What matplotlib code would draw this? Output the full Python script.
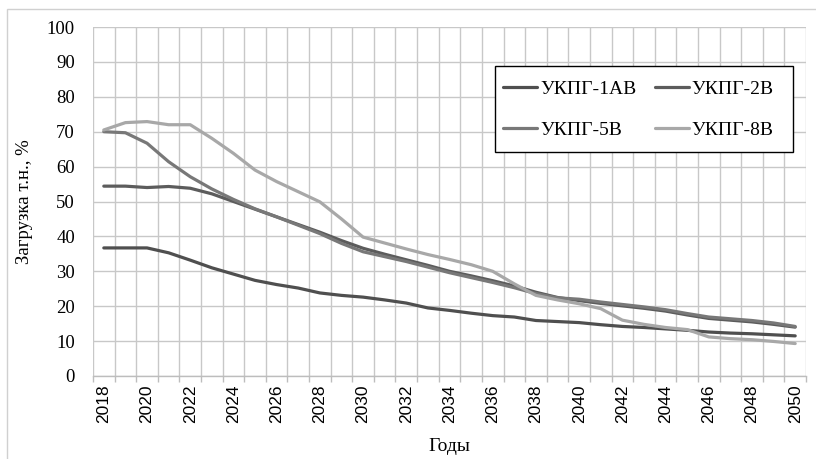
import matplotlib
matplotlib.use("Agg")
import matplotlib.pyplot as plt
from matplotlib.patches import Rectangle
import numpy as np

years = list(range(2018, 2051))

ukpg_1ab = [36.7, 36.7, 36.7, 35.3, 33.2, 31.0, 29.2, 27.4, 26.2, 25.2, 23.8,
            23.1, 22.6, 21.8, 20.9, 19.5, 18.8, 18.0, 17.3, 16.9, 15.9, 15.6,
            15.3, 14.7, 14.2, 13.9, 13.5, 13.1, 12.6, 12.3, 12.1, 11.8, 11.5]
ukpg_2b = [54.4, 54.4, 54.0, 54.3, 53.8, 52.2, 50.0, 47.8, 45.6, 43.4, 41.2,
           38.8, 36.6, 34.9, 33.3, 31.7, 30.0, 28.7, 27.3, 25.8, 24.0, 22.5,
           21.6, 20.8, 20.1, 19.4, 18.6, 17.5, 16.5, 16.0, 15.5, 14.8, 14.0]
ukpg_5b = [70.0, 69.7, 66.7, 61.4, 57.1, 53.6, 50.6, 47.9, 45.6, 43.2, 40.8,
           38.0, 35.6, 34.2, 32.8, 31.2, 29.6, 28.2, 26.8, 25.3, 23.6, 22.4,
           22.0, 21.2, 20.5, 19.8, 19.0, 17.9, 16.9, 16.4, 15.9, 15.2, 14.2]
ukpg_8b = [70.5, 72.6, 72.9, 72.0, 72.0, 68.1, 63.8, 59.0, 55.7, 52.8, 49.9,
           45.0, 39.8, 38.1, 36.4, 34.8, 33.4, 31.9, 30.0, 26.4, 23.1, 21.8,
           20.7, 19.3, 16.0, 14.8, 13.9, 13.3, 11.2, 10.7, 10.4, 9.9, 9.3]

series = [
    ("УКПГ-1АВ", ukpg_1ab, "#4f4f4f"),
    ("УКПГ-2В", ukpg_2b, "#5c5c5c"),
    ("УКПГ-5В", ukpg_5b, "#787878"),
    ("УКПГ-8В", ukpg_8b, "#a8a8a8"),
]

serif = ["Liberation Serif", "DejaVu Serif"]
sans = ["Liberation Sans", "DejaVu Sans"]

W, H = 816, 459
fig = plt.figure(figsize=(W / 100, H / 100), dpi=100)

# chart-area border (left and top edges fall inside the canvas)
fig.patches.append(Rectangle((7 / W, -0.1), 1.2, 1 - 9 / H + 0.1,
                             transform=fig.transFigure, fill=False,
                             edgecolor="#d0d0d0", linewidth=1.0))

ax = fig.add_axes([93 / W, 1 - 376 / H, (806 - 93) / W, (376 - 27) / H])

lines = {}
for name, vals, color in series:
    ln, = ax.plot(years, vals, color=color, linewidth=2.3,
                  solid_capstyle="round", label=name, zorder=3)
    lines[name] = ln

ax.set_xlim(2017.5, 2050.5)
ax.set_ylim(0, 100)

# category boundaries carry the gridlines and tick marks
bounds = np.arange(2017.5, 2051.0, 1.0)
ax.set_xticks(bounds)
ax.set_xticklabels([])
ax.set_xticks(years[::2], minor=True)
ax.set_xticklabels([str(y) for y in years[::2]], minor=True, rotation=90,
                   family=sans, fontsize=12.5)
ax.tick_params(axis="x", which="major", length=4.5, color="#bdbdbd", width=1.0)
ax.tick_params(axis="x", which="minor", length=0, pad=6)

ax.set_yticks(range(0, 101, 10))
ax.set_yticklabels([str(v) for v in range(0, 101, 10)], family=serif, fontsize=13.5)
ax.tick_params(axis="y", length=0, pad=13)

ax.grid(True, which="major", color="#c8c8c8", linewidth=1.0, zorder=0)
for s in ["top", "right", "left"]:
    ax.spines[s].set_visible(False)
ax.spines["bottom"].set_color("#bdbdbd")
ax.spines["bottom"].set_linewidth(1.0)
ax.set_axisbelow(True)

ax.set_xlabel("Годы", family=serif, fontsize=14, labelpad=11)
ax.set_ylabel("Загрузка т.н., %", family=serif, fontsize=13.5, labelpad=10)

# legend box drawn separately so its padding can be set freely
box = Rectangle((495 / W, 1 - 152 / H), (793 - 495) / W, (152 - 66) / H,
                transform=fig.transFigure, facecolor="white",
                edgecolor="black", linewidth=1.0, zorder=5)
ax.add_artist(box)
box.set_clip_on(False)

order = ["УКПГ-1АВ", "УКПГ-5В", "УКПГ-2В", "УКПГ-8В"]
leg = ax.legend([lines[n] for n in order], order, ncol=2,
                loc="upper left", bbox_to_anchor=(503 / W, 1 - 80 / H),
                bbox_transform=fig.transFigure,
                prop={"family": serif, "size": 14},
                frameon=False, handlelength=1.75, handletextpad=0.15,
                columnspacing=0.95, labelspacing=1.22, borderpad=0,
                borderaxespad=0)
leg.set_zorder(6)

fig.savefig("out.png", dpi=100)
